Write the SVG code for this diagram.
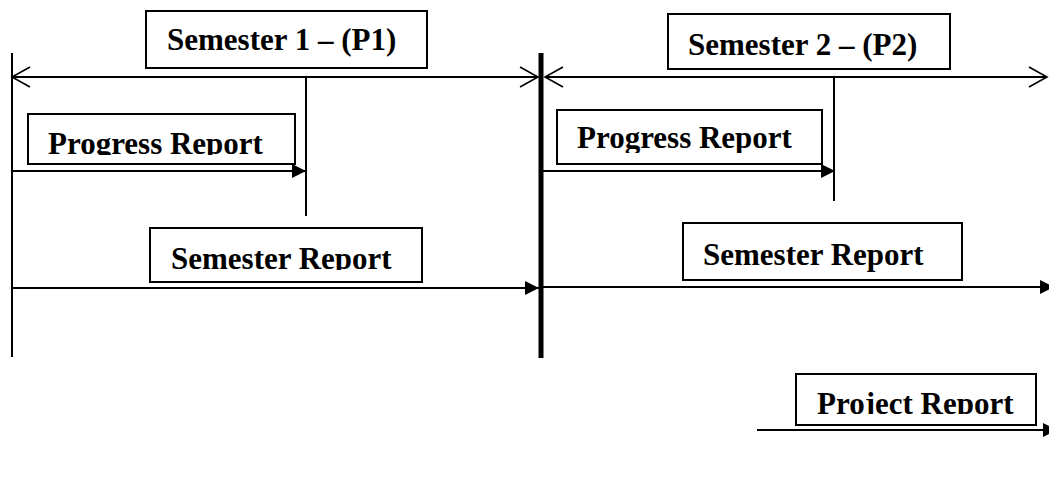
<svg xmlns="http://www.w3.org/2000/svg" width="1049" height="488" viewBox="0 0 1049 488">
<style>
.box{fill:#fff;stroke:#000;stroke-width:2}
.lbl{font-family:"Liberation Serif","Times New Roman",serif;font-weight:bold;font-size:31px;fill:#000}
.ln{stroke:#000;stroke-width:2;fill:none}
.thick{stroke:#000;stroke-width:5;fill:none}
.dbl{stroke:#000;stroke-width:2;fill:none;marker-start:url(#open);marker-end:url(#open)}
.arr{stroke:#000;stroke-width:2;fill:none;marker-end:url(#solid)}
</style>
<defs>
<marker id="solid" markerUnits="userSpaceOnUse" markerWidth="15" markerHeight="15" refX="14" refY="7" orient="auto" overflow="visible">
<path d="M0,0 L14,7 L0,14 z" fill="#000"/>
</marker>
<marker id="open" markerUnits="userSpaceOnUse" markerWidth="20" markerHeight="22" refX="18" refY="10" orient="auto-start-reverse" overflow="visible">
<path d="M0,0 L18,10 L0,20" fill="none" stroke="#000" stroke-width="1.6"/>
</marker>
<clipPath id="c-sem1"><rect x="146" y="11" width="281" height="46"/></clipPath>
<clipPath id="c-sem2"><rect x="667" y="14" width="284" height="48"/></clipPath>
<clipPath id="c-prog1"><rect x="28" y="114" width="267" height="41"/></clipPath>
<clipPath id="c-prog2"><rect x="557" y="110" width="265" height="43"/></clipPath>
<clipPath id="c-sr1"><rect x="150" y="228" width="272" height="42"/></clipPath>
<clipPath id="c-sr2"><rect x="683" y="223" width="279" height="49"/></clipPath>
<clipPath id="c-proj"><rect x="796" y="374" width="240" height="40"/></clipPath>
</defs>
<rect width="1049" height="488" fill="#fff"/>

<g id="connectors">
<line class="ln" x1="12" y1="53" x2="12" y2="357"/>
<line class="thick" x1="541" y1="53" x2="541" y2="358"/>
<line class="dbl" x1="12" y1="77" x2="538" y2="77"/>
<line class="dbl" x1="545" y1="77" x2="1047" y2="77"/>
<line class="ln" x1="306" y1="77" x2="306" y2="216"/>
<line class="ln" x1="834" y1="77" x2="834" y2="201"/>
<line class="arr" x1="12" y1="171" x2="306" y2="171"/>
<line class="arr" x1="543" y1="171" x2="835" y2="171"/>
<line class="arr" x1="12" y1="288" x2="539" y2="288"/>
<line class="arr" x1="543" y1="287" x2="1054" y2="287"/>
<line class="arr" x1="757" y1="430" x2="1057" y2="430"/>
</g>

<g id="semester1">
<rect class="box" x="146" y="11" width="281" height="57"/>
<text class="lbl" x="167" y="50" clip-path="url(#c-sem1)">Semester 1 – (P1)</text>
</g>
<g id="semester2">
<rect class="box" x="668" y="14" width="282" height="55"/>
<text class="lbl" x="688" y="55" clip-path="url(#c-sem2)">Semester 2 – (P2)</text>
</g>
<g id="progress1">
<rect class="box" x="28" y="114" width="267" height="50"/>
<text class="lbl" x="48" y="154" clip-path="url(#c-prog1)">Progress Report</text>
</g>
<g id="progress2">
<rect class="box" x="557" y="110" width="265" height="54"/>
<text class="lbl" x="577" y="148" clip-path="url(#c-prog2)">Progress Report</text>
</g>
<g id="semreport1">
<rect class="box" x="150" y="228" width="272" height="54"/>
<text class="lbl" x="171" y="269" clip-path="url(#c-sr1)">Semester Report</text>
</g>
<g id="semreport2">
<rect class="box" x="683" y="223" width="279" height="57"/>
<text class="lbl" x="703" y="265" clip-path="url(#c-sr2)">Semester Report</text>
</g>
<g id="projreport">
<rect class="box" x="796" y="374" width="240" height="51"/>
<text class="lbl" x="817" y="414" clip-path="url(#c-proj)">Project Report</text>
</g>
</svg>
